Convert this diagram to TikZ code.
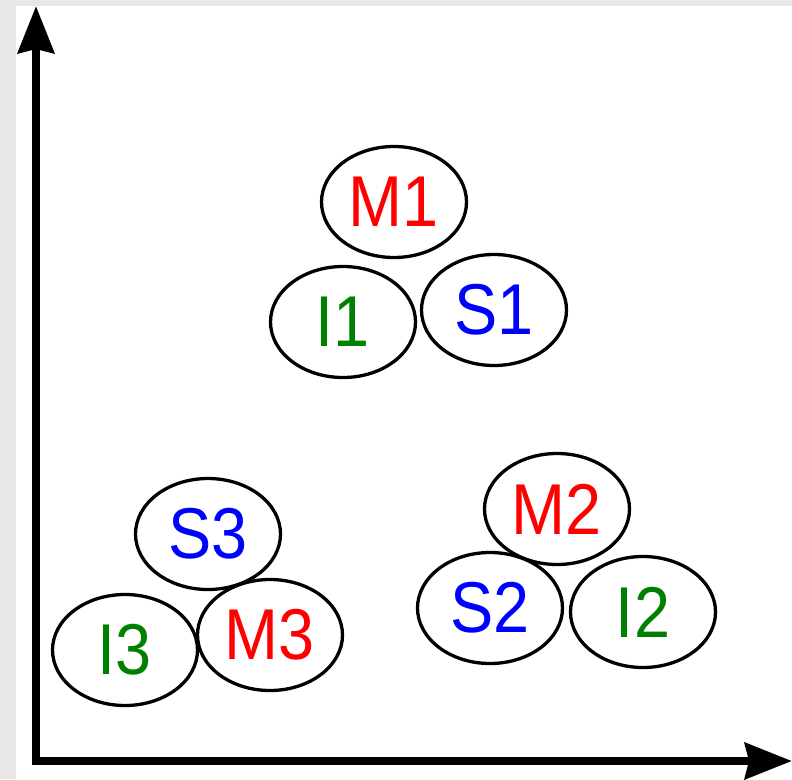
\documentclass[tikz,border=0pt]{standalone}
\usepackage{fontspec}
\setmainfont{Liberation Sans}
\newfontfamily\lblfont[FakeStretch=0.9]{Liberation Sans}
\usetikzlibrary{shapes.geometric,arrows.meta}
\definecolor{bggray}{RGB}{232,230,230}
\definecolor{lblred}{RGB}{255,0,0}
\definecolor{lblblue}{RGB}{0,0,255}
\definecolor{lblgreen}{RGB}{0,128,0}
\tikzset{
  blob/.style={ellipse, draw=black, line width=3.3pt, fill=none, minimum width=145pt, minimum height=111pt, inner sep=0pt,
    font=\lblfont\fontsize{72}{72}\selectfont},
  axisline/.style={line width=8pt, line join=miter,
    {Stealth[length=47pt,width=36pt,inset=4pt]}-{Stealth[length=47pt,width=36pt,inset=4pt]}}
}
\begin{document}
\begin{tikzpicture}[x=1pt,y=-1pt]
\useasboundingbox (0,0) rectangle (792,779);
\fill[bggray] (0,0) rectangle (792,779);
\fill[white] (16,6) rectangle (792,779);
\coordinate (ytip) at (36,6);
\coordinate (orig) at (36,761);
\coordinate (xtip) at (792,761);
\draw[axisline] (ytip) -- (orig) -- (xtip);
\node[blob, text=lblred] (M1) at (394,202) {M1};
\node[blob, text=lblgreen] (I1) at (343,322) {I1};
\node[blob, text=lblblue] (S1) at (494,310) {S1};
\node[blob, text=lblblue] (S3) at (208,534) {S3};
\node[blob, text=lblgreen] (I3) at (125,650) {I3};
\node[blob, text=lblred] (M3) at (270,635) {M3};
\node[blob, text=lblred] (M2) at (557,509) {M2};
\node[blob, text=lblblue] (S2) at (490,608) {S2};
\node[blob, text=lblgreen] (I2) at (643,612) {I2};
\end{tikzpicture}
\end{document}
